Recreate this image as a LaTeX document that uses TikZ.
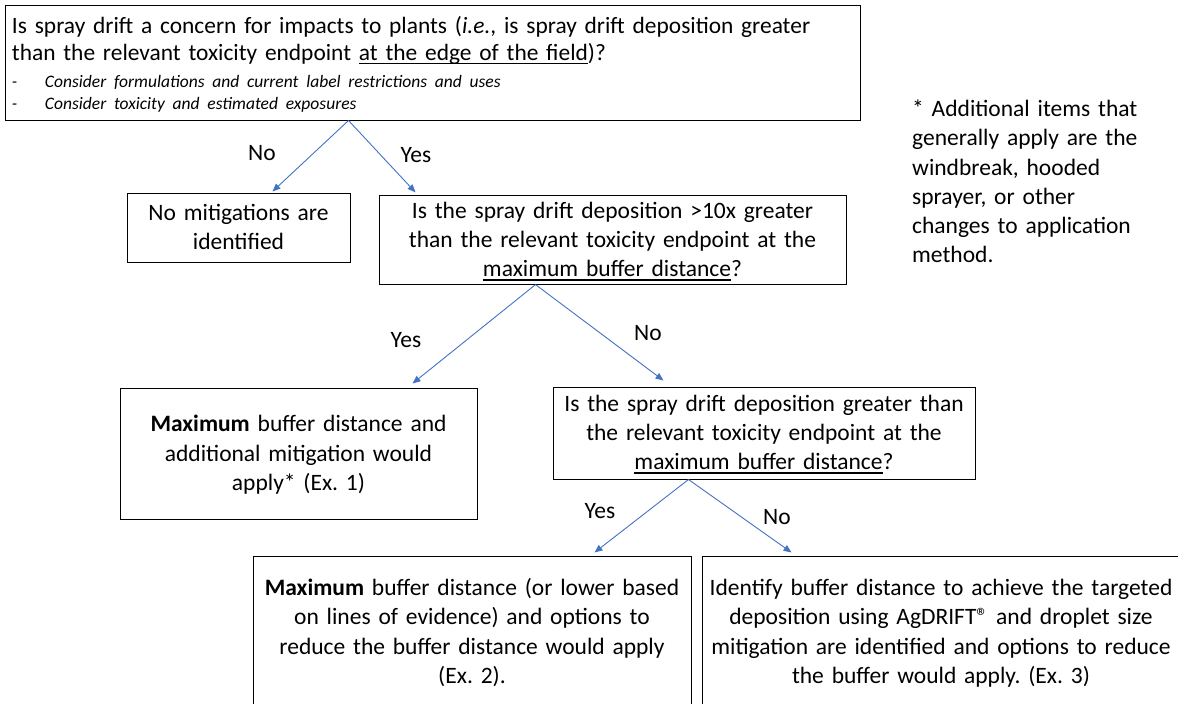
\documentclass[tikz,border=0pt]{standalone}
\usepackage{fontspec}
\setmainfont{Carlito}
\usetikzlibrary{arrows.meta,calc}
\definecolor{arrblue}{HTML}{4472C4}
\newcommand{\myul}[1]{\leavevmode\setbox0\hbox{#1}\rlap{\rule[-3pt]{\wd0}{1.2pt}}\box0}
\newcommand{\mythickul}[1]{\leavevmode\setbox0\hbox{#1}\rlap{\rule[-4pt]{\wd0}{2pt}}\box0}
\newcommand{\Ts}{\rule{0pt}{22.27pt}}
\newcommand{\Bs}{\rule[-7.13pt]{0pt}{7.13pt}}
\tikzset{
  txt/.style={font=\fontsize{23.5}{29.4}\selectfont\frenchspacing},
  box/.style={draw=black, line width=1pt, inner xsep=2pt, inner ysep=0pt, align=center, txt,
    execute at begin node=\Ts, execute at end node=\Bs},
  arr/.style={draw=arrblue, line width=0.9pt, -{Triangle[length=8pt,width=6.5pt]}},
  lbl/.style={txt, inner sep=0pt, text height=15.1pt, text depth=0pt, anchor=center},
}
\begin{document}
\begin{tikzpicture}[x=1pt,y=-1pt]
\useasboundingbox (0,0) rectangle (1178,704);
\begin{scope}
\clip (0,0) rectangle (1178,704);
\fill[white] (0,0) rectangle (1178,704);
% top question
\node[draw=black, line width=1pt, inner xsep=7pt, inner ysep=0pt, minimum width=855pt,
  minimum height=115pt, text width=841pt, font=\fontsize{23.4}{28}\selectfont\frenchspacing] (top) at (432.5,62.5)
  {\raggedright\rule{0pt}{24.3pt}Is spray drift a concern for impacts to plants (\textit{i.e.}, is spray drift deposition greater\par
   than the relevant toxicity endpoint \myul{at the edge of the field})?\par\vspace{4.1pt}
   \fontsize{17.5}{22}\selectfont\itshape\makebox[33pt][l]{-}Consider formulations and current label restrictions and uses\par
   \makebox[33pt][l]{-}Consider toxicity and estimated exposures\rule[-7.2pt]{0pt}{7.2pt}\par};
% boxes
\node[box, minimum width=223pt, minimum height=69pt, text width=219pt] (nomit) at (238.5,227.5)
  {No mitigations are\\identified};
\node[box, minimum width=467pt, minimum height=86pt, text width=463pt] (q2) at (612.5,240)
  {Is the spray drift deposition >10x greater\\than the relevant toxicity endpoint at the\\\mythickul{maximum buffer distance}?};
\node[box, minimum width=357pt, minimum height=131pt, text width=353pt] (max1) at (298.5,453.5)
  {\textbf{Maximum} buffer distance and\\additional mitigation would\\apply* (Ex. 1)};
\node[box, minimum width=422pt, minimum height=92pt, text width=418pt] (q3) at (764,433)
  {Is the spray drift deposition greater than\\the relevant toxicity endpoint at the\\\mythickul{maximum buffer distance}?};
\node[box, minimum width=438pt, minimum height=152pt, text width=434pt] (max2) at (472,632)
  {\textbf{Maximum} buffer distance (or lower based\\on lines of evidence) and options to\\reduce the buffer distance would apply\\(Ex. 2).};
\node[box, minimum width=478pt, minimum height=152pt, text width=474pt] (agd) at (941,632)
  {Identify buffer distance to achieve the targeted\\deposition using AgDRIFT® and droplet size\\mitigation are identified and options to reduce\\the buffer would apply. (Ex. 3)};
% footnote
\node[font=\fontsize{23.5}{29.2}\selectfont\frenchspacing, text width=262pt, align=left,
  anchor=north west, inner sep=0pt] (note) at (912,94.2)
  {\rule{0pt}{22.2pt}* Additional items that\\generally apply are the\\windbreak, hooded\\sprayer, or other\\changes to application\\method.};
% connector points
\coordinate (s1) at ([xshift=344pt]top.south west);
\coordinate (t1) at ([xshift=146pt,yshift=1pt]nomit.north west);
\coordinate (t2) at ([xshift=37pt,yshift=3pt]q2.north west);
\coordinate (s2) at ([xshift=157pt]q2.south west);
\coordinate (t3) at ([xshift=293pt,yshift=4pt]max1.north west);
\coordinate (t4) at ([xshift=111pt,yshift=6pt]q3.north west);
\coordinate (s3) at ([xshift=136pt]q3.south west);
\coordinate (t5) at ([xshift=342pt,yshift=3pt]max2.north west);
\coordinate (t6) at ([xshift=90pt,yshift=3pt]agd.north west);
\draw[arr] (s1) -- (t1);
\draw[arr] (s1) -- (t2);
\draw[arr] (s2) -- (t3);
\draw[arr] (s2) -- (t4);
\draw[arr] (s3) -- (t5);
\draw[arr] (s3) -- (t6);
% labels
\node[lbl] (l1) at (262,153) {No};
\node[lbl] (l2) at (416,155) {Yes};
\node[lbl] (l3) at (406,340) {Yes};
\node[lbl] (l4) at (648,333) {No};
\node[lbl] (l5) at (600,511) {Yes};
\node[lbl] (l6) at (777,517) {No};
\end{scope}
\end{tikzpicture}
\end{document}
